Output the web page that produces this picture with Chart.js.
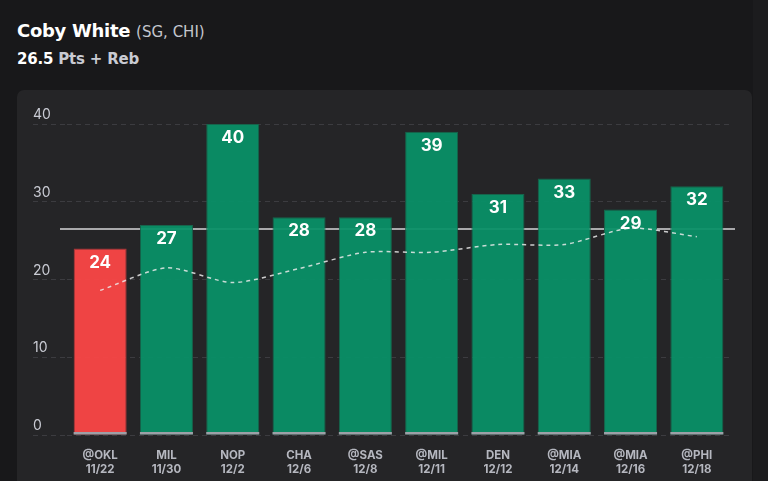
<!DOCTYPE html>
<html>
<head>
<meta charset="utf-8">
<script src="https://cdn.jsdelivr.net/npm/chart.js@4/dist/chart.umd.min.js"></script>
<style>
  html, body { margin: 0; padding: 0; }
  body { width: 768px; height: 481px; background: #18181a; overflow: hidden; position: relative; font-family: Inter, "Noto Sans", sans-serif; }
  #side { position: absolute; left: 753px; top: 0; width: 15px; height: 481px; background: #1c1c1e; }
  #head1 { position: absolute; left: 17px; top: 20px; color: #fff; font-family: "DejaVu Sans", sans-serif; font-size: 18px; font-weight: 700; letter-spacing: -0.3px; }
  #head1 span { color: #c4c6ce; font-size: 15px; font-weight: 400; letter-spacing: 0; }
  #head2 { position: absolute; left: 17px; top: 50px; color: #fff; font-family: "DejaVu Sans", sans-serif; font-size: 15px; font-weight: 700; letter-spacing: -0.2px; }
  #head2 span { color: #c9cbd3; }
  #card { position: absolute; left: 17px; top: 90px; width: 735px; height: 400px; background: #252527; border-radius: 7px; }
  #wrap { position: absolute; left: 0; top: 0; width: 735px; height: 391px; }
</style>
</head>
<body>
<div id="side"></div>
<div id="head1">Coby White <span>(SG, CHI)</span></div>
<div id="head2">26.5 <span>Pts + Reb</span></div>
<div id="card"><div id="wrap"><canvas id="gameChart" width="735" height="391"></canvas></div></div>
<script>
let games = [["@OKL", "11/22"], ["MIL", "11/30"], ["NOP", "12/2"], ["CHA", "12/6"], ["@SAS", "12/8"],
             ["@MIL", "12/11"], ["DEN", "12/12"], ["@MIA", "12/14"], ["@MIA", "12/16"], ["@PHI", "12/18"]];
let pts_reb = [24, 27, 40, 28, 28, 39, 31, 33, 29, 32];
let avg_line = [18.6, 21.5, 19.6, 21.4, 23.5, 23.5, 24.5, 24.5, 26.6, 25.5];
let base_strip = [0.4, 0.4, 0.4, 0.4, 0.4, 0.4, 0.4, 0.4, 0.4, 0.4];
let prop_line = 26.5;
let y_ticks = [0, 10, 20, 30, 40];

let bar_colors = [];
let edge_colors = [];
for (x in pts_reb) {
    if (pts_reb[x] < prop_line) {
        bar_colors.push('rgba(252, 70, 70, 0.94)');
        edge_colors.push('#a8383a');
    } else {
        bar_colors.push('rgba(9, 145, 103, 0.94)');
        edge_colors.push('#16644b');
    }
}

// horizontal prop line, drawn behind the bars
let propLinePlugin = {
    id: 'propLine',
    beforeDatasetsDraw(chart) {
        let ctx = chart.ctx;
        let y = chart.scales.y.getPixelForValue(prop_line);
        ctx.save();
        ctx.strokeStyle = '#a9a9ab';
        ctx.lineWidth = 2;
        ctx.beginPath();
        ctx.moveTo(chart.chartArea.left - 7, y);
        ctx.lineTo(chart.chartArea.right + 5, y);
        ctx.stroke();
        ctx.restore();
    }
};

// value written inside the top of each bar
let barLabelPlugin = {
    id: 'barLabels',
    afterDatasetsDraw(chart) {
        let ctx = chart.ctx;
        let meta = chart.getDatasetMeta(2);
        ctx.save();
        ctx.fillStyle = '#ffffff';
        ctx.font = 'bold 17px Inter, "Noto Sans", sans-serif';
        ctx.textAlign = 'center';
        ctx.textBaseline = 'middle';
        meta.data.forEach(function (bar, i) {
            ctx.fillText(String(pts_reb[i]), bar.x, bar.y + 14);
        });
        ctx.restore();
    }
};

let ctx1 = document.getElementById('gameChart');
let gameChart = new Chart(ctx1, {
    type: 'bar',
    data: {
        labels: games,
        datasets: [{
            type: 'line',
            data: avg_line,
            borderColor: 'rgba(235, 235, 235, 0.85)',
            borderWidth: 1.5,
            borderDash: [4, 4],
            pointRadius: 0,
            tension: 0.25,
            fill: false,
            order: 0
        }, {
            data: base_strip,
            backgroundColor: '#9da0a7',
            borderWidth: 0,
            grouped: false,
            barPercentage: 0.8,
            categoryPercentage: 1,
            order: 1
        }, {
            data: pts_reb,
            backgroundColor: bar_colors,
            borderColor: edge_colors,
            borderWidth: 1,
            borderSkipped: 'start',
            grouped: false,
            barPercentage: 0.8,
            categoryPercentage: 1,
            order: 2
        }]
    },
    options: {
        responsive: false,
        maintainAspectRatio: false,
        animation: false,
        layout: { padding: { left: 16, right: 22, top: 34, bottom: 0 } },
        plugins: {
            legend: { display: false },
            tooltip: { enabled: false }
        },
        scales: {
            x: {
                grid: { display: false },
                border: { display: false },
                ticks: {
                    color: '#b5b7bf',
                    font: { family: 'Inter, "Noto Sans", sans-serif', size: 11.5, weight: 'bold', lineHeight: 1.25 },
                    padding: 5,
                    maxRotation: 0,
                    autoSkip: false
                },
                afterFit(scale) { scale.height = 46; }
            },
            y: {
                min: 0,
                max: 40,
                afterBuildTicks(scale) { scale.ticks = y_ticks.map(v => ({ value: v })); },
                grid: {
                    color: '#3c3c40',
                    lineWidth: 1,
                    drawTicks: true,
                    tickLength: 34,
                    tickColor: '#3c3c40',
                    tickBorderDash: [5, 4]
                },
                border: { display: false, dash: [5, 4] },
                ticks: {
                    color: '#c9cbd3',
                    font: { family: 'Inter, "Noto Sans", sans-serif', size: 14 },
                    crossAlign: 'far',
                    labelOffset: -9,
                    padding: 0
                },
                afterFit(scale) { scale.width = 34; }
            }
        }
    },
    plugins: [propLinePlugin, barLabelPlugin]
});
</script>
</body>
</html>
